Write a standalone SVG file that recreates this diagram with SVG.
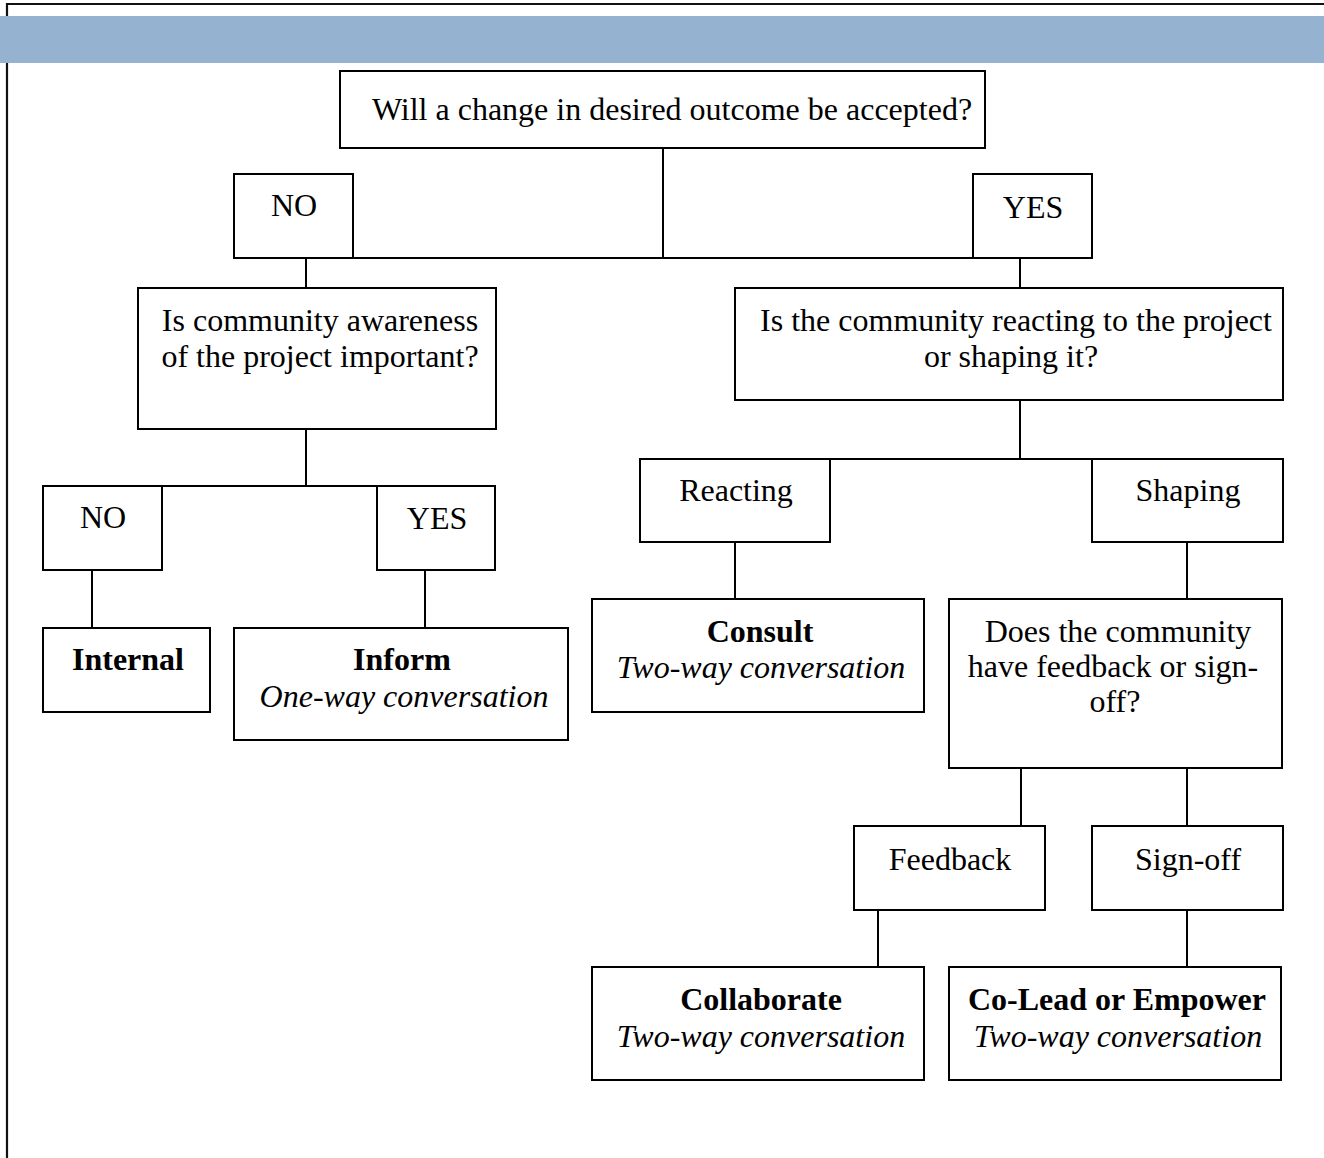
<svg xmlns="http://www.w3.org/2000/svg" width="1324" height="1158" viewBox="0 0 1324 1158">
<style>
.box{fill:#fff;stroke:#000;stroke-width:2}
.t{font-family:"Liberation Serif","Times New Roman",serif;font-size:32px;fill:#000;text-anchor:middle}
.b{font-weight:bold}
.i{font-style:italic}
.c{stroke:#000;stroke-width:2;fill:none}
</style>
<rect x="0" y="0" width="1324" height="1158" fill="#fff"/>
<path d="M7,1160 V4 H1326" fill="none" stroke="#111" stroke-width="2.2"/>
<rect x="0" y="16" width="1324" height="47" fill="#95B3D1"/>
<g id="connectors">
<path class="c" d="M663,148 V258 M353,258 H973 M306,258 V288 M1020,258 V288"/>
<path class="c" d="M306,429 V486 M162,486 H377 M92,570 V628 M425,570 V628"/>
<path class="c" d="M1020,400 V459 M830,459 H1092 M735,542 V599 M1187,542 V599"/>
<path class="c" d="M1021,768 V826 M1187,768 V826 M878,910 V967 M1187,910 V967"/>
</g>
<g id="q1"><rect class="box" x="340" y="71" width="645" height="77"/><text class="t" x="672" y="120">Will a change in desired outcome be accepted?</text></g>
<g id="no1"><rect class="box" x="234" y="174" width="119" height="84"/><text class="t" x="294" y="216">NO</text></g>
<g id="yes1"><rect class="box" x="973" y="174" width="119" height="84"/><text class="t" x="1033" y="218">YES</text></g>
<g id="q2"><rect class="box" x="138" y="288" width="358" height="141"/><text class="t" x="320" y="331">Is community awareness</text><text class="t" x="320" y="367">of the project important?</text></g>
<g id="q3"><rect class="box" x="735" y="288" width="548" height="112"/><text class="t" x="1016" y="331">Is the community reacting to the project</text><text class="t" x="1011" y="367">or shaping it?</text></g>
<g id="no2"><rect class="box" x="43" y="486" width="119" height="84"/><text class="t" x="103" y="528">NO</text></g>
<g id="yes2"><rect class="box" x="377" y="486" width="118" height="84"/><text class="t" x="437" y="529">YES</text></g>
<g id="internal"><rect class="box" x="43" y="628" width="167" height="84"/><text class="t b" x="128" y="670">Internal</text></g>
<g id="inform"><rect class="box" x="234" y="628" width="334" height="112"/><text class="t b" x="402" y="670">Inform</text><text class="t i" x="404" y="707">One-way conversation</text></g>
<g id="reacting"><rect class="box" x="640" y="459" width="190" height="83"/><text class="t" x="736" y="501">Reacting</text></g>
<g id="shaping"><rect class="box" x="1092" y="459" width="191" height="83"/><text class="t" x="1188" y="501">Shaping</text></g>
<g id="consult"><rect class="box" x="592" y="599" width="332" height="113"/><text class="t b" x="760" y="642">Consult</text><text class="t i" x="761" y="678">Two-way conversation</text></g>
<g id="q4"><rect class="box" x="949" y="599" width="333" height="169"/><text class="t" x="1118" y="642">Does the community</text><text class="t" x="1113" y="677">have feedback or sign-</text><text class="t" x="1115" y="712">off?</text></g>
<g id="feedback"><rect class="box" x="854" y="826" width="191" height="84"/><text class="t" x="950" y="870">Feedback</text></g>
<g id="signoff"><rect class="box" x="1092" y="826" width="191" height="84"/><text class="t" x="1188" y="870">Sign-off</text></g>
<g id="collaborate"><rect class="box" x="592" y="967" width="332" height="113"/><text class="t b" x="761" y="1010">Collaborate</text><text class="t i" x="761" y="1047">Two-way conversation</text></g>
<g id="colead"><rect class="box" x="949" y="967" width="332" height="113"/><text class="t b" x="1117" y="1010">Co-Lead or Empower</text><text class="t i" x="1118" y="1047">Two-way conversation</text></g>
</svg>
